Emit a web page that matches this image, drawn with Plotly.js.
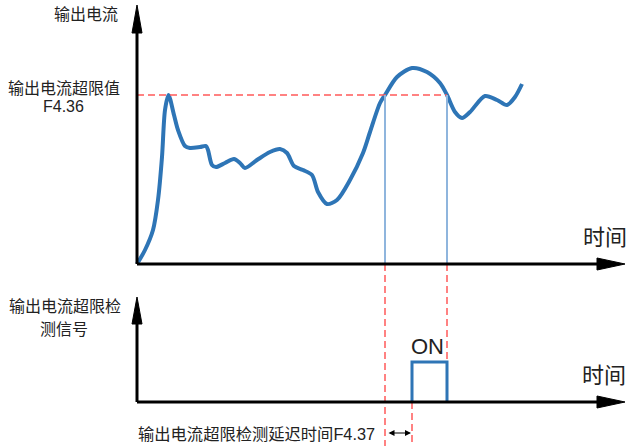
<!DOCTYPE html>
<html>
<head>
<meta charset="utf-8">
<script src="https://cdn.plot.ly/plotly-3.0.1.min.js"></script>
<style>html,body{margin:0;padding:0;background:#fff;}#chart{width:626px;height:446px;}</style>
</head>
<body>
<div id="chart"></div>
<script>
// ---- data (time in arbitrary units, current in arbitrary units) ----
const timeT   = [0, 8, 16, 21, 25, 28, 31.5, 37, 41, 48, 53, 63, 69, 71, 75, 79, 88, 97, 103, 108, 120, 133, 143, 150, 157, 166, 175, 181, 190, 200, 213, 226, 233, 243, 248, 260, 275, 290, 303, 310, 318, 325, 333, 348, 360, 370, 378, 385];
const current = [0, 14, 34, 64, 107, 154, 169, 149, 134, 118, 116, 117, 118, 114, 99, 97, 101, 105, 101, 96, 104, 112, 115, 111, 98, 94, 89, 72, 60, 64, 84, 111, 132, 161, 169, 187, 196, 192, 181, 169, 152, 146, 152, 168, 164, 159, 167, 180];
const threshold = 169;            // F4.36
const crossT = [248, 310];        // times current crosses threshold
const sigT = [275, 275, 310, 310];// detection signal
const sigV = [0, 1, 1, 0];
const delayStart = 248, delayEnd = 275; // F4.37 delay

// ---- geometry helpers (pixel -> axis units) ----
const X0 = 137, Y0 = 264, SIG0 = 402, SIGH = 40;
const px2x = p => p - X0;
const py2y = p => Y0 - p;
const sig2y = s => py2y(SIG0 - SIGH * s);

const blue = '#2e75b6', red = '#ff5a5a', lightBlue = '#8fb5dd', black = '#000';
const cjk = '"Noto Sans CJK SC", "Liberation Sans", sans-serif';
const latin = '"Liberation Sans", "Noto Sans CJK SC", sans-serif';

const traces = [
  {x: timeT, y: current, type: 'scatter', mode: 'lines',
   line: {color: blue, width: 4, shape: 'spline', smoothing: 0.8}, hoverinfo: 'skip'},
  {x: sigT, y: sigV, yaxis: 'y2', type: 'scatter', mode: 'lines',
   line: {color: blue, width: 3}, hoverinfo: 'skip'}
];

const shapes = [];
const dash = {color: red, width: 1.5, dash: '7px,4px'};
// threshold line
shapes.push({type: 'line', xref: 'x', yref: 'y', x0: 0, x1: crossT[1], y0: threshold, y1: threshold, line: dash});
// vertical blue lines at crossings
crossT.forEach(t => shapes.push({type: 'line', xref: 'x', yref: 'y', x0: t, x1: t, y0: threshold, y1: 0, line: {color: lightBlue, width: 2}}));
// red dashed extensions
shapes.push({type: 'line', xref: 'x', yref: 'y', x0: crossT[0], x1: crossT[0], y0: 0, y1: py2y(446), line: dash});
shapes.push({type: 'line', xref: 'x', yref: 'y', x0: crossT[1], x1: crossT[1], y0: 0, y1: sig2y(1), line: dash});
shapes.push({type: 'line', xref: 'x', yref: 'y', x0: delayEnd, x1: delayEnd, y0: sig2y(0), y1: py2y(446), line: dash});

// axes with arrows
function vAxis(yBottom, yLineTop, yTip, yBase) {
  shapes.push({type: 'line', xref: 'x', yref: 'y', x0: 0, x1: 0, y0: yBottom, y1: yLineTop, line: {color: black, width: 3}});
  shapes.push({type: 'path', xref: 'x', yref: 'y', path: `M -5,${yBase} L 0,${yTip} L 5,${yBase} Z`, fillcolor: black, line: {color: black, width: 1}});
}
function hAxis(y) {
  const xBase = px2x(597), xTip = px2x(625);
  shapes.push({type: 'line', xref: 'x', yref: 'y', x0: 0, x1: xBase + 2, y0: y, y1: y, line: {color: black, width: 3}});
  shapes.push({type: 'path', xref: 'x', yref: 'y', path: `M ${xBase},${y - 6} L ${xTip},${y} L ${xBase},${y + 6} Z`, fillcolor: black, line: {color: black, width: 1}});
}
vAxis(0, py2y(30), py2y(5), py2y(33));
hAxis(0);
vAxis(sig2y(0), py2y(320), py2y(297), py2y(324));
hAxis(sig2y(0));

function txt(text, px, py, size, family, xanchor) {
  return {text: text, x: px2x(px), y: py2y(py), xref: 'x', yref: 'y', showarrow: false,
    xanchor: xanchor || 'center', yanchor: 'middle', align: 'center',
    font: {size: size, family: family || cjk, color: '#222'}};
}
const annotations = [
  txt('输出电流', 86, 13, 16),
  txt('输出电流超限值', 64, 87, 16),
  txt('F4.36', 63, 106, 16, latin),
  txt('输出电流超限检', 65, 305, 16),
  txt('测信号', 64, 328, 16),
  txt('时间', 605, 235, 22),
  txt('时间', 604, 373, 22),
  txt('ON', 427, 346, 22, latin),
  txt('输出电流超限检测延迟时间F4.37', 136, 434, 16.3, latin, 'left'),
  {x: delayEnd - 1, y: py2y(433), ax: delayStart + 2, ay: py2y(433), xref: 'x', yref: 'y', axref: 'x', ayref: 'y',
   text: '', showarrow: true, arrowhead: 2, arrowside: 'end+start', arrowsize: 1, arrowwidth: 1.2, arrowcolor: black}
];

const layout = {
  width: 626, height: 446, autosize: false,
  margin: {l: 0, r: 0, t: 0, b: 0, pad: 0},
  paper_bgcolor: '#fff', plot_bgcolor: '#fff', showlegend: false,
  xaxis: {range: [px2x(0), px2x(626)], visible: false, fixedrange: true},
  yaxis: {range: [py2y(446), py2y(0)], visible: false, fixedrange: true},
  yaxis2: {range: [(SIG0 - 446) / SIGH, SIG0 / SIGH], overlaying: 'y', visible: false, fixedrange: true},
  shapes: shapes, annotations: annotations
};
Plotly.newPlot('chart', traces, layout, {displayModeBar: false, staticPlot: true});
</script>
</body>
</html>
